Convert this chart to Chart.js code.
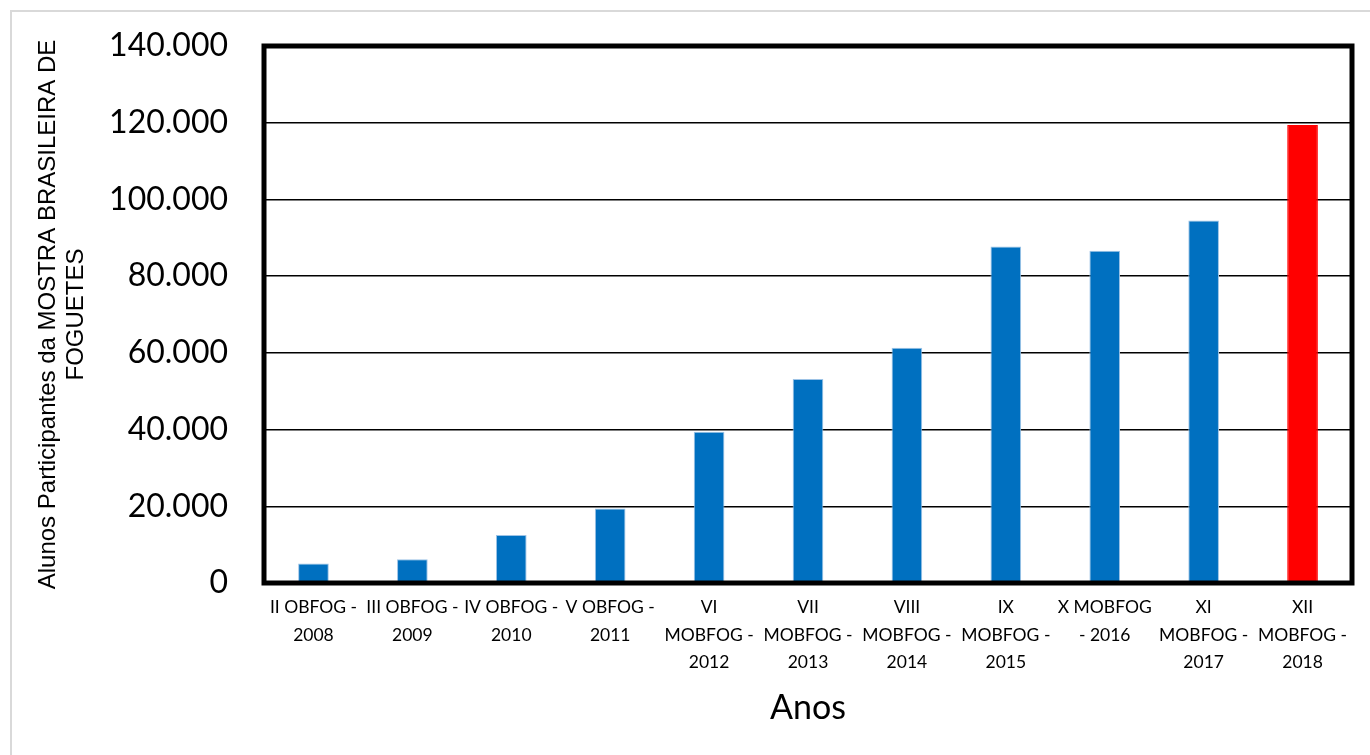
<!DOCTYPE html>
<html>
<head>
<meta charset="utf-8">
<script src="https://cdn.jsdelivr.net/npm/chart.js@4/dist/chart.umd.min.js"></script>
<style>
html,body{margin:0;padding:0;background:#fff;}
#wrap{position:relative;width:1370px;height:755px;}
</style>
</head>
<body>
<div id="wrap"><canvas id="c" width="1370" height="755"></canvas></div>
<script>
const categories = [
  ["II OBFOG -", "2008"],
  ["III OBFOG -", "2009"],
  ["IV OBFOG -", "2010"],
  ["V OBFOG -", "2011"],
  ["VI", "MOBFOG -", "2012"],
  ["VII", "MOBFOG -", "2013"],
  ["VIII", "MOBFOG -", "2014"],
  ["IX", "MOBFOG -", "2015"],
  ["X MOBFOG", "- 2016"],
  ["XI", "MOBFOG -", "2017"],
  ["XII", "MOBFOG -", "2018"]
];
const participants = [5100, 6200, 12500, 19400, 39400, 53200, 61300, 87700, 86600, 94500, 119400];
const barColors = ["#0070C0","#0070C0","#0070C0","#0070C0","#0070C0","#0070C0","#0070C0","#0070C0","#0070C0","#0070C0","#FF0000"];
const barEdges = ["#9DC3E6","#9DC3E6","#9DC3E6","#9DC3E6","#9DC3E6","#9DC3E6","#9DC3E6","#9DC3E6","#9DC3E6","#9DC3E6","#FF0000"];
const yTitle = ["Alunos Participantes da MOSTRA BRASILEIRA DE", "FOGUETES"];
const xTitle = "Anos";

function fmt(v){
  return String(v).replace(/\B(?=(\d{3})+(?!\d))/g, ".");
}

const framePlugin = {
  id: 'frame',
  beforeDraw(chart){
    const ctx = chart.ctx;
    ctx.save();
    ctx.strokeStyle = '#d9d9d9';
    ctx.lineWidth = 2;
    ctx.beginPath();
    ctx.moveTo(11, 760);
    ctx.lineTo(11, 11);
    ctx.lineTo(1370, 11);
    ctx.stroke();
    ctx.restore();
  },
  afterDatasetsDraw(chart){
    const a = chart.chartArea;
    const ctx = chart.ctx;
    ctx.save();
    ctx.strokeStyle = '#000';
    ctx.lineWidth = 5;
    ctx.strokeRect(a.left, a.top, a.right - a.left, a.bottom - a.top);
    ctx.restore();
  }
};

new Chart(document.getElementById('c'), {
  type: 'bar',
  data: {
    labels: categories,
    datasets: [{
      data: participants,
      backgroundColor: barColors,
      borderColor: barEdges,
      borderWidth: 1,
      barPercentage: 0.31,
      categoryPercentage: 1.0
    }]
  },
  options: {
    responsive: false,
    animation: false,
    layout: { padding: { left: 0, top: 46, right: 18, bottom: 0 } },
    plugins: { legend: { display: false }, tooltip: { enabled: false } },
    scales: {
      x: {
        grid: { display: false, drawTicks: false },
        border: { display: false },
        ticks: {
          color: '#000',
          padding: 11,
          maxRotation: 0,
          autoSkip: false,
          font: { family: 'Lato', size: 17.5, lineHeight: 1.57 }
        },
        title: {
          display: true,
          text: xTitle,
          color: '#000',
          font: { family: 'Lato', size: 34, lineHeight: 1.2 },
          padding: { top: 0, bottom: 27 }
        },
        afterFit(scale){ scale.height = 172; scale.paddingLeft = 0; scale.paddingRight = 0; }
      },
      y: {
        min: 0,
        max: 140000,
        grid: { color: '#000', lineWidth: 1.5, drawTicks: false },
        border: { display: false },
        ticks: {
          stepSize: 20000,
          color: '#000',
          padding: 36,
          font: { family: 'Lato', size: 32 },
          callback: (v) => fmt(v)
        },
        title: {
          display: true,
          text: yTitle,
          color: '#000',
          font: { family: 'Liberation Sans', size: 24, lineHeight: 1.19 },
          padding: { top: 34, bottom: 0 }
        },
        afterFit(scale){ scale.width = 264; scale.paddingTop = 0; scale.paddingBottom = 0; }
      }
    }
  },
  plugins: [framePlugin]
});
</script>
</body>
</html>
